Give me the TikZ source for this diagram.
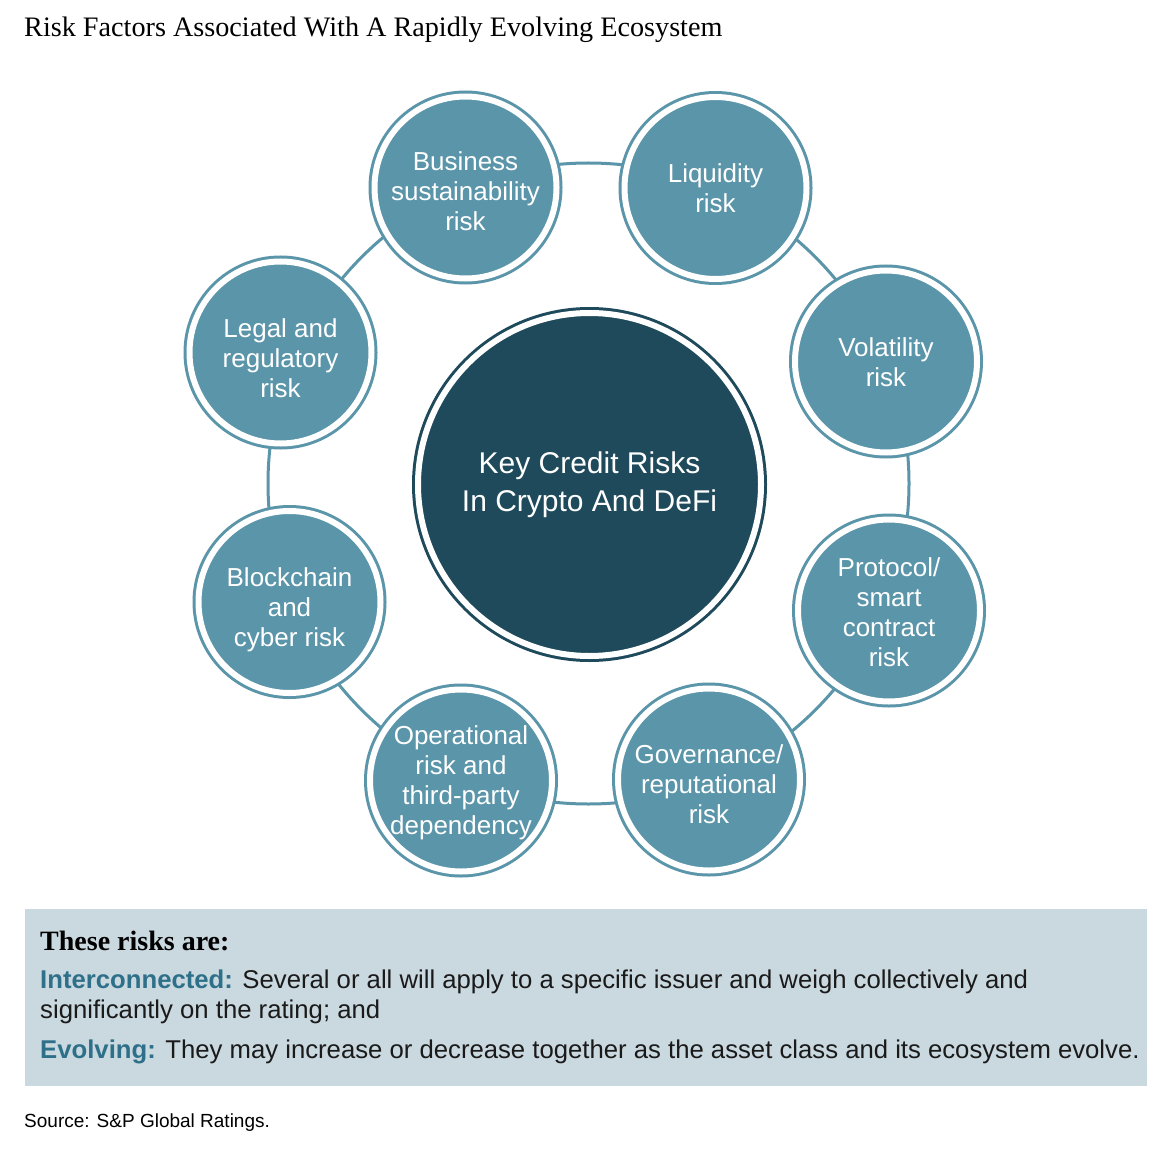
\documentclass[tikz,border=0pt]{standalone}
\usepackage{fontspec}
\setmainfont{Liberation Sans}
\newfontfamily\titlefont{Liberation Serif}
\definecolor{riskfill}{HTML}{5B95A9}
\definecolor{hubfill}{HTML}{1E4A5B}
\definecolor{boxfill}{HTML}{CAD8DF}
\definecolor{accent}{HTML}{2E7089}
\definecolor{ink}{HTML}{1A1A1A}
\begin{document}
\begin{tikzpicture}[x=1pt,y=-1pt,
  riskcircle/.style={circle, fill=riskfill, draw=riskfill, line width=3pt, double=white, double distance=6pt,
    minimum size=182pt, inner sep=0pt},
  risktext/.style={text=white, align=center, inner sep=0pt, font=\fontsize{26}{30}\selectfont},
  hubcircle/.style={circle, fill=hubfill, draw=hubfill, line width=3pt, double=white, double distance=6pt,
    minimum size=343pt, inner sep=0pt, text=white, align=center, font=\fontsize{30}{38}\selectfont},
  ringline/.style={draw=riskfill, line width=3pt},
  bodytext/.style={anchor=base west, inner sep=0pt, text=ink, font=\fontsize{25.7}{30}\selectfont},
]
\useasboundingbox (0,0) rectangle (1172,1150);
\fill[white] (0,0) rectangle (1172,1150);

% title
\node[anchor=base west, inner sep=0pt, text=black, font=\titlefont\fontsize{28.2}{32}\selectfont] (title) at (24,37)
  {Risk Factors Associated With A Rapidly Evolving Ecosystem};

% hub and ring
\coordinate (ringc) at (588.5,483.5);
\draw[ringline] (ringc) circle[radius=320.5pt];
\node[hubcircle] (hub) at (589.5,484.5) {Key Credit Risks\\In Crypto And DeFi};

% risk circles
\node[riskcircle, label={[risktext, yshift=-4pt]center:{Business\\sustainability\\risk}}] (business) at (465.5,187.5) {};
\node[riskcircle, label={[risktext]center:{Liquidity\\risk}}] (liquidity) at (715.5,188) {};
\node[riskcircle, label={[risktext, yshift=-1pt]center:{Volatility\\risk}}] (volatility) at (886,361.5) {};
\node[riskcircle, label={[risktext, yshift=-2pt]center:{Protocol/\\smart\\contract\\risk}}] (protocol) at (889,610.5) {};
\node[riskcircle, label={[risktext, yshift=-5pt]center:{Governance/\\reputational\\risk}}] (governance) at (709,779.5) {};
\node[riskcircle, label={[risktext, yshift=-2.5pt]center:{Operational\\risk and\\third-party\\dependency}}] (operational) at (461,780.5) {};
\node[riskcircle, label={[risktext, yshift=-8pt]center:{Blockchain\\and\\cyber risk}}] (blockchain) at (289.5,602) {};
\node[riskcircle, label={[risktext, yshift=-6pt]center:{Legal and\\regulatory\\risk}}] (legal) at (280.5,352.5) {};

% box
\fill[boxfill] (25,909) rectangle (1147,1086);
\node[anchor=base west, inner sep=0pt, text=black, font=\titlefont\bfseries\fontsize{28}{32}\selectfont] (boxhead) at (40,950)
  {These risks are:};
\node[bodytext] (line1) at (40,988)
  {{\bfseries\color{accent}Interconnected:} Several or all will apply to a specific issuer and weigh collectively and};
\node[bodytext] (line2) at (40,1018) {significantly on the rating; and};
\node[bodytext] (line3) at (40,1058)
  {{\bfseries\color{accent}Evolving:} They may increase or decrease together as the asset class and its ecosystem evolve.};

% source
\node[anchor=base west, inner sep=0pt, text=black, font=\fontsize{19}{22}\selectfont] (source) at (24,1127)
  {Source: S\&P Global Ratings.};
\end{tikzpicture}
\end{document}
